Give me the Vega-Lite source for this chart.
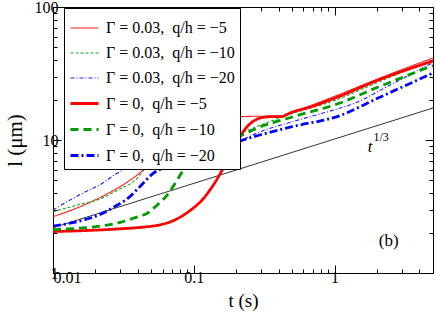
{
  "$schema": "https://vega.github.io/schema/vega-lite/v6.json",
  "width": 380,
  "height": 266,
  "autosize": "none",
  "padding": {"left": 53, "top": 7, "right": 3, "bottom": 39},
  "background": "white",
  "config": {
    "view": {"stroke": "black", "strokeWidth": 1},
    "axis": {
      "grid": false,
      "domainColor": "black",
      "tickColor": "black",
      "labelFont": "Liberation Serif",
      "labelFontSize": 16,
      "labelColor": "black",
      "titleFont": "Liberation Serif",
      "titleFontSize": 19,
      "titleFontWeight": "normal",
      "titleColor": "black"
    },
    "legend": {
      "symbolType": "stroke", "symbolSize": 784,
      "labelFont": "Liberation Serif", "labelFontSize": 16, "labelColor": "black",
      "strokeColor": "black", "fillColor": "white", "padding": 5, "rowPadding": 2, "labelOffset": 6
    }
  },
  "datasets": {
    "curves": [
      {"series": "Γ = 0.03,\u2002q/h = −5", "t": 0.01, "l": 2.65},
      {"series": "Γ = 0.03,\u2002q/h = −5", "t": 0.015, "l": 3.1},
      {"series": "Γ = 0.03,\u2002q/h = −5", "t": 0.02, "l": 3.55},
      {"series": "Γ = 0.03,\u2002q/h = −5", "t": 0.025, "l": 4.0},
      {"series": "Γ = 0.03,\u2002q/h = −5", "t": 0.03, "l": 4.46},
      {"series": "Γ = 0.03,\u2002q/h = −5", "t": 0.04, "l": 5.5},
      {"series": "Γ = 0.03,\u2002q/h = −5", "t": 0.05, "l": 6.7},
      {"series": "Γ = 0.03,\u2002q/h = −5", "t": 0.065, "l": 8.4},
      {"series": "Γ = 0.03,\u2002q/h = −5", "t": 0.084, "l": 10.3},
      {"series": "Γ = 0.03,\u2002q/h = −5", "t": 0.11, "l": 12.4},
      {"series": "Γ = 0.03,\u2002q/h = −5", "t": 0.145, "l": 14.1},
      {"series": "Γ = 0.03,\u2002q/h = −5", "t": 0.2, "l": 14.9},
      {"series": "Γ = 0.03,\u2002q/h = −5", "t": 0.3, "l": 15.1},
      {"series": "Γ = 0.03,\u2002q/h = −5", "t": 0.42, "l": 15.1},
      {"series": "Γ = 0.03,\u2002q/h = −5", "t": 0.46, "l": 15.6},
      {"series": "Γ = 0.03,\u2002q/h = −5", "t": 0.5, "l": 16.3},
      {"series": "Γ = 0.03,\u2002q/h = −5", "t": 0.55, "l": 16.9},
      {"series": "Γ = 0.03,\u2002q/h = −5", "t": 0.6, "l": 17.4},
      {"series": "Γ = 0.03,\u2002q/h = −5", "t": 1, "l": 21.3},
      {"series": "Γ = 0.03,\u2002q/h = −5", "t": 2, "l": 28.6},
      {"series": "Γ = 0.03,\u2002q/h = −5", "t": 5, "l": 41.4},

      {"series": "Γ = 0.03,\u2002q/h = −10", "t": 0.01, "l": 2.89},
      {"series": "Γ = 0.03,\u2002q/h = −10", "t": 0.015, "l": 3.25},
      {"series": "Γ = 0.03,\u2002q/h = −10", "t": 0.0215, "l": 3.6},
      {"series": "Γ = 0.03,\u2002q/h = −10", "t": 0.03, "l": 4.3},
      {"series": "Γ = 0.03,\u2002q/h = −10", "t": 0.0372, "l": 4.86},
      {"series": "Γ = 0.03,\u2002q/h = −10", "t": 0.045, "l": 6.1},
      {"series": "Γ = 0.03,\u2002q/h = −10", "t": 0.05, "l": 7.2},
      {"series": "Γ = 0.03,\u2002q/h = −10", "t": 0.06, "l": 8.6},
      {"series": "Γ = 0.03,\u2002q/h = −10", "t": 0.07, "l": 9.6},
      {"series": "Γ = 0.03,\u2002q/h = −10", "t": 0.08, "l": 10.3},
      {"series": "Γ = 0.03,\u2002q/h = −10", "t": 0.094, "l": 10.8},
      {"series": "Γ = 0.03,\u2002q/h = −10", "t": 0.12, "l": 11.0},
      {"series": "Γ = 0.03,\u2002q/h = −10", "t": 0.157, "l": 10.9},
      {"series": "Γ = 0.03,\u2002q/h = −10", "t": 0.19, "l": 10.9},
      {"series": "Γ = 0.03,\u2002q/h = −10", "t": 0.23, "l": 11.6},
      {"series": "Γ = 0.03,\u2002q/h = −10", "t": 0.3, "l": 13.0},
      {"series": "Γ = 0.03,\u2002q/h = −10", "t": 0.5, "l": 15.8},
      {"series": "Γ = 0.03,\u2002q/h = −10", "t": 1, "l": 19.8},
      {"series": "Γ = 0.03,\u2002q/h = −10", "t": 2, "l": 27.0},
      {"series": "Γ = 0.03,\u2002q/h = −10", "t": 5, "l": 39.9},

      {"series": "Γ = 0.03,\u2002q/h = −20", "t": 0.01, "l": 2.98},
      {"series": "Γ = 0.03,\u2002q/h = −20", "t": 0.0164, "l": 4.0},
      {"series": "Γ = 0.03,\u2002q/h = −20", "t": 0.0215, "l": 4.6},
      {"series": "Γ = 0.03,\u2002q/h = −20", "t": 0.0283, "l": 5.6},
      {"series": "Γ = 0.03,\u2002q/h = −20", "t": 0.033, "l": 6.1},
      {"series": "Γ = 0.03,\u2002q/h = −20", "t": 0.04, "l": 6.6},
      {"series": "Γ = 0.03,\u2002q/h = −20", "t": 0.0488, "l": 7.0},
      {"series": "Γ = 0.03,\u2002q/h = −20", "t": 0.06, "l": 7.3},
      {"series": "Γ = 0.03,\u2002q/h = −20", "t": 0.08, "l": 7.4},
      {"series": "Γ = 0.03,\u2002q/h = −20", "t": 0.1, "l": 7.6},
      {"series": "Γ = 0.03,\u2002q/h = −20", "t": 0.123, "l": 8.3},
      {"series": "Γ = 0.03,\u2002q/h = −20", "t": 0.16, "l": 9.0},
      {"series": "Γ = 0.03,\u2002q/h = −20", "t": 0.21, "l": 9.8},
      {"series": "Γ = 0.03,\u2002q/h = −20", "t": 0.294, "l": 11.5},
      {"series": "Γ = 0.03,\u2002q/h = −20", "t": 0.5, "l": 13.7},
      {"series": "Γ = 0.03,\u2002q/h = −20", "t": 1.08, "l": 17.3},
      {"series": "Γ = 0.03,\u2002q/h = −20", "t": 1.28, "l": 18.3},
      {"series": "Γ = 0.03,\u2002q/h = −20", "t": 2.5, "l": 26.0},
      {"series": "Γ = 0.03,\u2002q/h = −20", "t": 5, "l": 38.3},

      {"series": "Γ = 0,\u2002q/h = −5", "t": 0.01, "l": 2.05},
      {"series": "Γ = 0,\u2002q/h = −5", "t": 0.02, "l": 2.1},
      {"series": "Γ = 0,\u2002q/h = −5", "t": 0.03, "l": 2.15},
      {"series": "Γ = 0,\u2002q/h = −5", "t": 0.045, "l": 2.22},
      {"series": "Γ = 0,\u2002q/h = −5", "t": 0.0574, "l": 2.3},
      {"series": "Γ = 0,\u2002q/h = −5", "t": 0.07, "l": 2.45},
      {"series": "Γ = 0,\u2002q/h = −5", "t": 0.08, "l": 2.63},
      {"series": "Γ = 0,\u2002q/h = −5", "t": 0.09, "l": 2.85},
      {"series": "Γ = 0,\u2002q/h = −5", "t": 0.1, "l": 3.1},
      {"series": "Γ = 0,\u2002q/h = −5", "t": 0.115, "l": 3.55},
      {"series": "Γ = 0,\u2002q/h = −5", "t": 0.13, "l": 4.2},
      {"series": "Γ = 0,\u2002q/h = −5", "t": 0.145, "l": 5.0},
      {"series": "Γ = 0,\u2002q/h = −5", "t": 0.16, "l": 6.0},
      {"series": "Γ = 0,\u2002q/h = −5", "t": 0.175, "l": 7.2},
      {"series": "Γ = 0,\u2002q/h = −5", "t": 0.19, "l": 8.5},
      {"series": "Γ = 0,\u2002q/h = −5", "t": 0.206, "l": 10.0},
      {"series": "Γ = 0,\u2002q/h = −5", "t": 0.225, "l": 11.6},
      {"series": "Γ = 0,\u2002q/h = −5", "t": 0.25, "l": 13.2},
      {"series": "Γ = 0,\u2002q/h = −5", "t": 0.28, "l": 14.3},
      {"series": "Γ = 0,\u2002q/h = −5", "t": 0.31, "l": 14.8},
      {"series": "Γ = 0,\u2002q/h = −5", "t": 0.36, "l": 15.0},
      {"series": "Γ = 0,\u2002q/h = −5", "t": 0.42, "l": 15.0},
      {"series": "Γ = 0,\u2002q/h = −5", "t": 0.46, "l": 15.6},
      {"series": "Γ = 0,\u2002q/h = −5", "t": 0.5, "l": 16.2},
      {"series": "Γ = 0,\u2002q/h = −5", "t": 0.55, "l": 16.7},
      {"series": "Γ = 0,\u2002q/h = −5", "t": 0.6, "l": 17.1},
      {"series": "Γ = 0,\u2002q/h = −5", "t": 1, "l": 20.6},
      {"series": "Γ = 0,\u2002q/h = −5", "t": 2, "l": 28.0},
      {"series": "Γ = 0,\u2002q/h = −5", "t": 5, "l": 39.3},

      {"series": "Γ = 0,\u2002q/h = −10", "t": 0.01, "l": 2.12},
      {"series": "Γ = 0,\u2002q/h = −10", "t": 0.015, "l": 2.17},
      {"series": "Γ = 0,\u2002q/h = −10", "t": 0.0215, "l": 2.25},
      {"series": "Γ = 0,\u2002q/h = −10", "t": 0.03, "l": 2.4},
      {"series": "Γ = 0,\u2002q/h = −10", "t": 0.0372, "l": 2.58},
      {"series": "Γ = 0,\u2002q/h = −10", "t": 0.0488, "l": 2.9},
      {"series": "Γ = 0,\u2002q/h = −10", "t": 0.055, "l": 3.25},
      {"series": "Γ = 0,\u2002q/h = −10", "t": 0.064, "l": 3.8},
      {"series": "Γ = 0,\u2002q/h = −10", "t": 0.072, "l": 4.55},
      {"series": "Γ = 0,\u2002q/h = −10", "t": 0.084, "l": 5.9},
      {"series": "Γ = 0,\u2002q/h = −10", "t": 0.099, "l": 7.6},
      {"series": "Γ = 0,\u2002q/h = −10", "t": 0.123, "l": 9.8},
      {"series": "Γ = 0,\u2002q/h = −10", "t": 0.15, "l": 10.5},
      {"series": "Γ = 0,\u2002q/h = −10", "t": 0.2, "l": 10.6},
      {"series": "Γ = 0,\u2002q/h = −10", "t": 0.25, "l": 11.6},
      {"series": "Γ = 0,\u2002q/h = −10", "t": 0.294, "l": 12.5},
      {"series": "Γ = 0,\u2002q/h = −10", "t": 0.5, "l": 14.9},
      {"series": "Γ = 0,\u2002q/h = −10", "t": 1.08, "l": 18.9},
      {"series": "Γ = 0,\u2002q/h = −10", "t": 2, "l": 24.8},
      {"series": "Γ = 0,\u2002q/h = −10", "t": 5, "l": 36.3},

      {"series": "Γ = 0,\u2002q/h = −20", "t": 0.01, "l": 2.25},
      {"series": "Γ = 0,\u2002q/h = −20", "t": 0.0164, "l": 2.5},
      {"series": "Γ = 0,\u2002q/h = −20", "t": 0.0215, "l": 2.75},
      {"series": "Γ = 0,\u2002q/h = −20", "t": 0.028, "l": 3.2},
      {"series": "Γ = 0,\u2002q/h = −20", "t": 0.033, "l": 3.55},
      {"series": "Γ = 0,\u2002q/h = −20", "t": 0.0414, "l": 4.46},
      {"series": "Γ = 0,\u2002q/h = −20", "t": 0.0514, "l": 5.6},
      {"series": "Γ = 0,\u2002q/h = −20", "t": 0.064, "l": 6.3},
      {"series": "Γ = 0,\u2002q/h = −20", "t": 0.089, "l": 7.1},
      {"series": "Γ = 0,\u2002q/h = −20", "t": 0.11, "l": 7.6},
      {"series": "Γ = 0,\u2002q/h = −20", "t": 0.13, "l": 8.2},
      {"series": "Γ = 0,\u2002q/h = −20", "t": 0.16, "l": 8.8},
      {"series": "Γ = 0,\u2002q/h = −20", "t": 0.21, "l": 9.8},
      {"series": "Γ = 0,\u2002q/h = −20", "t": 0.294, "l": 10.9},
      {"series": "Γ = 0,\u2002q/h = −20", "t": 0.5, "l": 12.6},
      {"series": "Γ = 0,\u2002q/h = −20", "t": 1.08, "l": 15.2},
      {"series": "Γ = 0,\u2002q/h = −20", "t": 2, "l": 20.5},
      {"series": "Γ = 0,\u2002q/h = −20", "t": 5, "l": 31.9}
    ],
    "powerlaw": [
      {"t": 0.01, "l": 2.19},
      {"t": 5, "l": 17.4}
    ]
  },
  "layer": [
    {
      "data": {"name": "powerlaw"},
      "mark": {"type": "line", "color": "black", "strokeWidth": 0.8, "clip": true},
      "encoding": {
        "x": {
          "field": "t", "type": "quantitative",
          "scale": {"type": "log", "domain": [0.01, 5], "nice": false},
          "axis": {
            "orient": "top", "labels": false, "title": null,
            "values": [0.01,0.02,0.03,0.04,0.05,0.06,0.07,0.08,0.09,0.1,0.2,0.3,0.4,0.5,0.6,0.7,0.8,0.9,1,2,3,4,5],
            "tickSize": {"condition": {"test": "datum.value == 0.01 || datum.value == 0.1 || datum.value == 1", "value": -8}, "value": -4}
          }
        },
        "y": {
          "field": "l", "type": "quantitative",
          "scale": {"type": "log", "domain": [1, 100], "nice": false},
          "axis": {
            "orient": "right", "labels": false, "title": null,
            "values": [1,2,3,4,5,6,7,8,9,10,20,30,40,50,60,70,80,90,100],
            "tickSize": {"condition": {"test": "datum.value == 1 || datum.value == 10 || datum.value == 100", "value": -8}, "value": -4}
          }
        }
      }
    },
    {
      "data": {"name": "curves"},
      "mark": {"type": "line", "interpolate": "monotone", "clip": true},
      "encoding": {
        "x": {
          "field": "t", "type": "quantitative",
          "scale": {"type": "log", "domain": [0.01, 5], "nice": false},
          "axis": {
            "orient": "bottom", "title": "t (s)", "titlePadding": 6,
            "values": [0.01,0.02,0.03,0.04,0.05,0.06,0.07,0.08,0.09,0.1,0.2,0.3,0.4,0.5,0.6,0.7,0.8,0.9,1,2,3,4,5],
            "labelExpr": "datum.value == 0.01 ? '0.01' : datum.value == 0.1 ? '0.1' : datum.value == 1 ? '1' : ''",
            "labelPadding": 4,
            "tickSize": {"condition": {"test": "datum.value == 0.01 || datum.value == 0.1 || datum.value == 1", "value": -8}, "value": -4}
          }
        },
        "y": {
          "field": "l", "type": "quantitative",
          "scale": {"type": "log", "domain": [1, 100], "nice": false},
          "axis": {
            "orient": "left", "title": "l (μm)", "titlePadding": 9, "titleFontSize": 21,
            "values": [1,2,3,4,5,6,7,8,9,10,20,30,40,50,60,70,80,90,100],
            "labelExpr": "datum.value == 1 ? '1' : datum.value == 10 ? '10' : datum.value == 100 ? '100' : ''",
            "labelPadding": 3,
            "tickSize": {"condition": {"test": "datum.value == 1 || datum.value == 10 || datum.value == 100", "value": -8}, "value": -4}
          }
        },
        "color": {
          "field": "series", "type": "nominal",
          "scale": {
            "domain": ["Γ = 0.03,\u2002q/h = −5", "Γ = 0.03,\u2002q/h = −10", "Γ = 0.03,\u2002q/h = −20", "Γ = 0,\u2002q/h = −5", "Γ = 0,\u2002q/h = −10", "Γ = 0,\u2002q/h = −20"],
            "range": ["#ff1a1a", "#1aa51a", "#1a1aff", "#ff0000", "#009900", "#0000ff"]
          },
          "legend": {"title": null, "orient": "none", "legendX": 11, "legendY": 1}
        },
        "strokeDash": {
          "field": "series", "type": "nominal",
          "scale": {
            "domain": ["Γ = 0.03,\u2002q/h = −5", "Γ = 0.03,\u2002q/h = −10", "Γ = 0.03,\u2002q/h = −20", "Γ = 0,\u2002q/h = −5", "Γ = 0,\u2002q/h = −10", "Γ = 0,\u2002q/h = −20"],
            "range": [[1, 0], [3, 2], [4, 2, 1, 2], [1, 0], [8, 5], [8, 3, 2, 3]]
          },
          "legend": {"title": null, "orient": "none", "legendX": 11, "legendY": 1}
        },
        "strokeWidth": {
          "field": "series", "type": "nominal",
          "scale": {
            "type": "ordinal",
            "domain": ["Γ = 0.03,\u2002q/h = −5", "Γ = 0.03,\u2002q/h = −10", "Γ = 0.03,\u2002q/h = −20", "Γ = 0,\u2002q/h = −5", "Γ = 0,\u2002q/h = −10", "Γ = 0,\u2002q/h = −20"],
            "range": [1.1, 1.1, 1.1, 2.8, 2.8, 2.8]
          },
          "legend": {"title": null, "orient": "none", "legendX": 11, "legendY": 1}
        }
      }
    },
    {
      "data": {"values": [{"t": 1.79, "l": 8.9, "txt": "t"}]},
      "mark": {"type": "text", "font": "Liberation Serif", "fontSize": 17, "fontStyle": "italic", "color": "black"},
      "encoding": {
        "x": {"field": "t", "type": "quantitative", "axis": null},
        "y": {"field": "l", "type": "quantitative", "axis": null},
        "text": {"field": "txt"}
      }
    },
    {
      "data": {"values": [{"t": 2.14, "l": 10.5, "txt": "1/3"}]},
      "mark": {"type": "text", "font": "Liberation Serif", "fontSize": 12, "color": "black"},
      "encoding": {
        "x": {"field": "t", "type": "quantitative", "axis": null},
        "y": {"field": "l", "type": "quantitative", "axis": null},
        "text": {"field": "txt"}
      }
    },
    {
      "data": {"values": [{"t": 2.42, "l": 1.74, "txt": "(b)"}]},
      "mark": {"type": "text", "font": "Liberation Serif", "fontSize": 17, "color": "black"},
      "encoding": {
        "x": {"field": "t", "type": "quantitative", "axis": null},
        "y": {"field": "l", "type": "quantitative", "axis": null},
        "text": {"field": "txt"}
      }
    }
  ],
  "resolve": {"axis": {"x": "independent", "y": "independent"}}
}
